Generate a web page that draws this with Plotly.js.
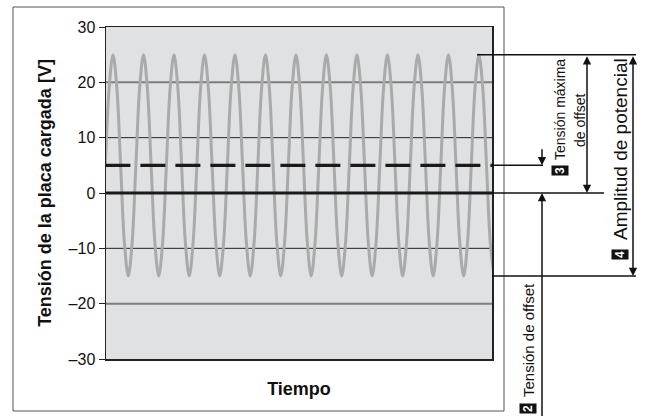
<!DOCTYPE html>
<html>
<head>
<meta charset="utf-8">
<script src="https://cdn.plot.ly/plotly-3.0.1.min.js"></script>
<style>html,body{margin:0;padding:0;background:#fff;}#chart{width:645px;height:416px;}</style>
</head>
<body>
<div id="chart"></div>
<script>
// Time in periods of the AC signal (eighth-period samples)
const tiempo = [
  0,0.125,0.25,0.375,0.5,0.625,0.75,0.875,
  1,1.125,1.25,1.375,1.5,1.625,1.75,1.875,
  2,2.125,2.25,2.375,2.5,2.625,2.75,2.875,
  3,3.125,3.25,3.375,3.5,3.625,3.75,3.875,
  4,4.125,4.25,4.375,4.5,4.625,4.75,4.875,
  5,5.125,5.25,5.375,5.5,5.625,5.75,5.875,
  6,6.125,6.25,6.375,6.5,6.625,6.75,6.875,
  7,7.125,7.25,7.375,7.5,7.625,7.75,7.875,
  8,8.125,8.25,8.375,8.5,8.625,8.75,8.875,
  9,9.125,9.25,9.375,9.5,9.625,9.75,9.875,
  10,10.125,10.25,10.375,10.5,10.625,10.75,10.875,
  11,11.125,11.25,11.375,11.5,11.625,11.75,11.875,
  12,12.125,12.25,12.375,12.5,12.625,12.75
];
// Plate voltage [V]: oscillates between +25 and -15 around +5
const tension = [
  5,19.1,25,19.1,5,-9.1,-15,-9.1,
  5,19.1,25,19.1,5,-9.1,-15,-9.1,
  5,19.1,25,19.1,5,-9.1,-15,-9.1,
  5,19.1,25,19.1,5,-9.1,-15,-9.1,
  5,19.1,25,19.1,5,-9.1,-15,-9.1,
  5,19.1,25,19.1,5,-9.1,-15,-9.1,
  5,19.1,25,19.1,5,-9.1,-15,-9.1,
  5,19.1,25,19.1,5,-9.1,-15,-9.1,
  5,19.1,25,19.1,5,-9.1,-15,-9.1,
  5,19.1,25,19.1,5,-9.1,-15,-9.1,
  5,19.1,25,19.1,5,-9.1,-15,-9.1,
  5,19.1,25,19.1,5,-9.1,-15,-9.1,
  5,19.1,25,19.1,5,-9.1,-15
];
const offsetX = [0, 12.75];
const offsetY = [5, 5];         // Tensión de offset
const ceroY = [0, 0];           // 0 V reference
const yTicks = [-30, -20, -10, 0, 10, 20, 30];
const yTickText = ['–30', '–20', '–10', '0', '10', '20', '30'];
const gridMajor = [20, -20];
const gridMinor = [10, -10];
const vMax = 25, vMin = -15, vOffset = 5, vCero = 0;

const FONT = 'Liberation Sans, Arial, Helvetica, sans-serif';

const traces = [
  {x: tiempo, y: tension, mode: 'lines', line: {color: '#aaaaaa', width: 3, shape: 'spline', smoothing: 1}, hoverinfo: 'skip'},
  {x: offsetX, y: offsetY, mode: 'lines', line: {color: '#1a1a1a', width: 3.2, dash: '25px,10px'}, hoverinfo: 'skip'},
  {x: offsetX, y: ceroY, mode: 'lines', line: {color: '#1a1a1a', width: 3.2}, hoverinfo: 'skip'}
];

function px(p) { return (p - 106) / 386; }
function py(p) { return (359 - p) / 332; }

const shapes = [];
gridMajor.forEach(v => shapes.push({type: 'line', xref: 'paper', yref: 'y', x0: 0, x1: 1, y0: v, y1: v, layer: 'below', line: {color: '#7c7c7c', width: 2}}));
gridMinor.forEach(v => shapes.push({type: 'line', xref: 'paper', yref: 'y', x0: 0, x1: 1, y0: v, y1: v, layer: 'below', line: {color: '#222222', width: 1}}));
// outer frame
shapes.push({type: 'rect', xref: 'paper', yref: 'paper', x0: px(13), x1: px(504), y0: py(411), y1: py(7), line: {color: '#555555', width: 1}});
// annotation leader lines
shapes.push({type: 'line', xref: 'paper', yref: 'y', x0: px(477), x1: px(636), y0: vMax, y1: vMax, line: {color: '#111', width: 1.5}});
shapes.push({type: 'line', xref: 'paper', yref: 'y', x0: px(492), x1: px(543), y0: vOffset, y1: vOffset, line: {color: '#111', width: 1.5}});
shapes.push({type: 'line', xref: 'paper', yref: 'y', x0: px(492), x1: px(604), y0: vCero, y1: vCero, line: {color: '#111', width: 1.5}});
shapes.push({type: 'line', xref: 'paper', yref: 'y', x0: px(492), x1: px(636), y0: vMin, y1: vMin, line: {color: '#111', width: 1.5}});

function arrow(xp, yHead, yTail, both) {
  return {xref: 'paper', yref: 'y', x: px(xp), y: yHead, axref: 'pixel', ayref: 'y', ax: 0, ay: yTail,
    text: '', showarrow: true, arrowhead: 2, startarrowhead: 2, arrowsize: 1.1, startarrowsize: 1.1, arrowwidth: 1.5,
    arrowcolor: '#111', arrowside: both ? 'end+start' : 'end', standoff: 0, startstandoff: 0};
}
function box(xp, yp, txt, size) {
  return {xref: 'paper', yref: 'paper', x: px(xp), y: py(yp), text: '<b>' + txt + '</b>', showarrow: false, textangle: -90,
    bgcolor: '#111', borderpad: 1, font: {family: FONT, size: size, color: '#fff'}, xanchor: 'center', yanchor: 'middle'};
}
function label(xp, yp, txt, size) {
  return {xref: 'paper', yref: 'paper', x: px(xp), y: py(yp), text: txt, showarrow: false, textangle: -90,
    font: {family: FONT, size: size, color: '#111'}, xanchor: 'center', yanchor: 'middle', align: 'center'};
}

const annotations = [
  arrow(587, vCero, vMax, true),
  arrow(633, vMin, vMax, true),
  arrow(542, vOffset, 8.2, false),
  arrow(542, vCero, -41, false),
  label(560, 110, 'Tensión máxima', 14),
  label(580, 120, 'de offset', 14),
  box(560, 171, '3', 12),
  label(620, 149, 'Amplitud de potencial', 19),
  box(620, 255, '4', 12),
  label(528, 340, 'Tensión de offset', 15),
  box(528, 409, '2', 12)
];

const layout = {
  width: 645, height: 416,
  margin: {l: 106, r: 153, t: 27, b: 57, pad: 0},
  paper_bgcolor: '#ffffff',
  plot_bgcolor: '#e0e1e3',
  showlegend: false,
  font: {family: FONT, color: '#111'},
  xaxis: {range: [0.02, 12.68], showticklabels: false, ticks: '', showgrid: false, zeroline: false,
    showline: true, mirror: true, linecolor: '#222', linewidth: 1.5,
    title: {text: '<b>Tiempo</b>', font: {size: 18, family: FONT, color: '#111'}, standoff: 23}},
  yaxis: {range: [-30, 30], tickvals: yTicks, ticktext: yTickText, ticks: 'outside', ticklen: 6, tickwidth: 1, tickcolor: '#222',
    tickfont: {size: 16, family: FONT, color: '#111'}, showgrid: false, zeroline: false,
    showline: true, mirror: true, linecolor: '#222', linewidth: 1.5,
    title: {text: '<b>Tensión de la placa cargada [V]</b>', font: {size: 18, family: FONT, color: '#111'}, standoff: 12}},
  shapes: shapes,
  annotations: annotations
};

Plotly.newPlot('chart', traces, layout, {displayModeBar: false, staticPlot: true});
</script>
</body>
</html>
